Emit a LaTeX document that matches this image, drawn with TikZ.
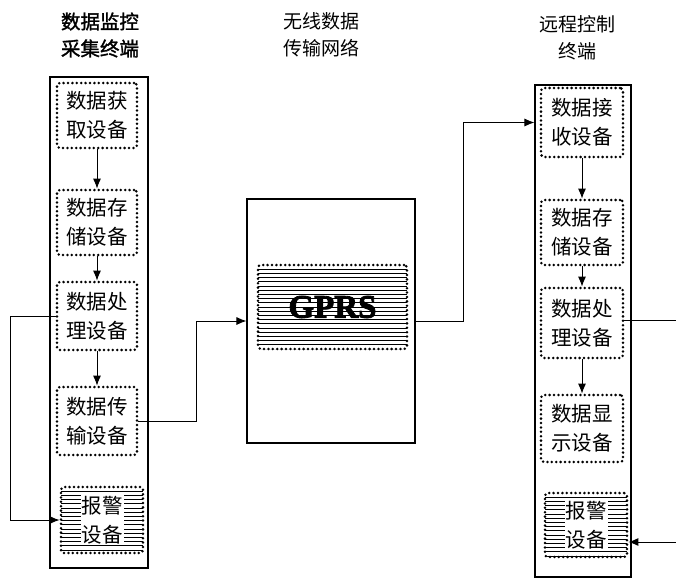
\documentclass[tikz,border=0pt]{standalone}
\usepackage{fontspec}
\newfontfamily\cjk{Noto Sans CJK SC}
\newfontfamily\cjkb[FakeBold=1.5]{Noto Sans CJK SC}
\setmainfont[BoldFeatures={FakeBold=2.5}]{Liberation Serif}
\usetikzlibrary{arrows.meta}
\tikzset{
  outer/.style={draw, line width=1.1pt},
  dev/.style={draw, dash pattern=on 0pt off 4.4pt, line cap=round, line width=2.8pt, rounded corners=3pt, align=center,
    inner sep=0pt, font=\cjk\fontsize{20.5}{29}\selectfont},
  hatch/.style={dev, path picture={
    \foreach \k in {1,...,25}{
      \draw[line width=0.7pt, solid, line cap=butt]
        ([yshift=-\k*4.2pt]path picture bounding box.north west) --
        ([yshift=-\k*4.2pt]path picture bounding box.north east);}}},
  title/.style={align=center, font=\cjk\fontsize{19}{27}\selectfont},
  arr/.style={line width=0.9pt, -{Latex[length=10pt,width=8pt]}},
  ln/.style={line width=0.9pt},
}
\begin{document}
\begin{tikzpicture}[x=1pt,y=-1pt]
\useasboundingbox (0,0) rectangle (676,579);
% titles
\node[title, font=\cjkb\fontsize{19.5}{27}\selectfont] (t1) at (100,35) {数据监控\\采集终端};
\node[title] (t2) at (321,35) {无线数据\\传输网络};
\node[title] (t3) at (577,38) {远程控制\\终端};
% outer boxes
\node[outer, minimum width=98pt, minimum height=491pt] (lout) at (99,322.5) {};
\node[outer, minimum width=96pt, minimum height=492pt] (rout) at (583,331) {};
\node[outer, minimum width=168pt, minimum height=244pt] (gp) at (331,321) {};
% GPRS
\node[hatch, minimum width=149pt, minimum height=84pt] (gin) at (332.5,307) {};
\node[font=\bfseries\fontsize{33}{34}\selectfont, inner sep=0pt] (gtxt) at (gin.center) {GPRS};
% left devices
\node[dev, minimum width=80pt, minimum height=65pt] (lg) at (97,115.5) {数据获\\取设备};
\node[dev, minimum width=80pt, minimum height=65pt] (ls) at (97,222.5) {数据存\\储设备};
\node[dev, minimum width=80pt, minimum height=68pt] (lp) at (97,316) {数据处\\理设备};
\node[dev, minimum width=80pt, minimum height=68pt] (lt) at (97,421) {数据传\\输设备};
\node[hatch, minimum width=82pt, minimum height=66pt] (la) at (102,520) {};
\node[fill=white, align=center, inner sep=1pt, font=\cjk\fontsize{20.5}{29}\selectfont] (lat) at (la.center) {报警\\设备};
% right devices
\node[dev, minimum width=82pt, minimum height=69pt] (rr) at (582,122.5) {数据接\\收设备};
\node[dev, minimum width=82pt, minimum height=65pt] (rs) at (582,232.5) {数据存\\储设备};
\node[dev, minimum width=82pt, minimum height=70pt] (rp) at (582,323) {数据处\\理设备};
\node[dev, minimum width=82pt, minimum height=67pt] (rd) at (582,428.5) {数据显\\示设备};
\node[hatch, minimum width=82pt, minimum height=64pt] (ra) at (586,525) {};
\node[fill=white, align=center, inner sep=1pt, font=\cjk\fontsize{20.5}{29}\selectfont] (rat) at (ra.center) {报警\\设备};
% vertical arrows
\draw[arr] (lg.south) -- (ls.north);
\draw[arr] (ls.south) -- (lp.north);
\draw[arr] (lp.south) -- (lt.north);
\draw[arr] (rr.south) -- (rs.north);
\draw[arr] (rs.south) -- (rp.north);
\draw[arr] (rp.south) -- (rd.north);
% connectors
\draw[arr] (lt.east) -- ++(58,0) |- (gp.west);
\draw[arr] (gp.east) -- ++(48,0) |- (rr.west -| rout.west);
\draw[arr] (lp.west) -- ++(-45,0) |- (la.west);
\coordinate (re1) at (676,320);
\coordinate (re2) at (676,542);
\draw[ln] (rp.east |- re1) -- (re1);
\draw[arr] (re2) -- (ra.east |- re2);
\end{tikzpicture}
\end{document}
